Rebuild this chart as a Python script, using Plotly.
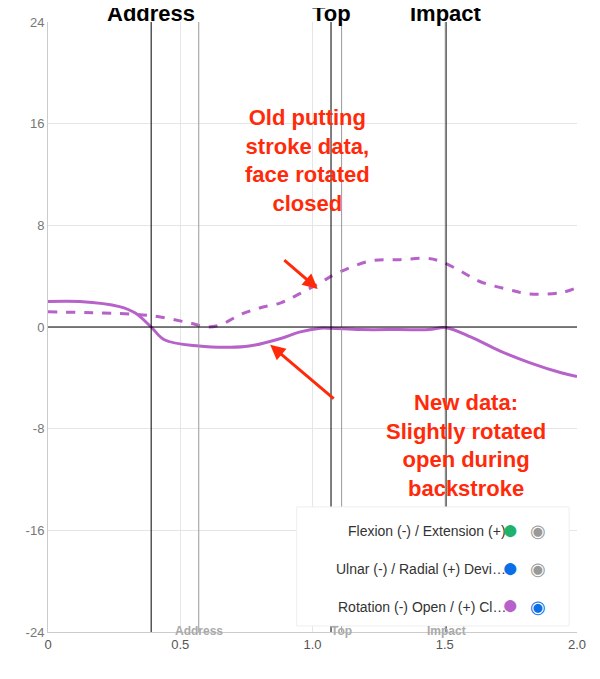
import plotly.graph_objects as go

# readings from the picture (x in seconds, rotation in degrees)
new_x = [0, 0.12, 0.27, 0.33, 0.39, 0.44, 0.57, 0.69, 0.76, 0.88, 0.95, 1.03, 1.07, 1.18, 1.33, 1.44, 1.505, 1.6, 1.71, 1.82, 1.94, 2.0]
new_y = [2.0, 2.0, 1.6, 1.1, 0.0, -1.0, -1.5, -1.6, -1.5, -0.9, -0.4, -0.1, -0.1, -0.2, -0.2, -0.2, -0.05, -0.8, -1.9, -2.8, -3.6, -3.9]
old_x = [0, 0.2, 0.33, 0.42, 0.54, 0.6, 0.65, 0.73, 0.8, 0.88, 0.95, 1.03, 1.1, 1.22, 1.33, 1.43, 1.48, 1.56, 1.63, 1.75, 1.82, 1.94, 2.0]
old_y = [1.2, 1.1, 1.0, 0.8, 0.3, 0.0, 0.15, 1.0, 1.5, 1.9, 2.6, 3.5, 4.3, 5.2, 5.3, 5.4, 5.2, 4.4, 3.6, 2.9, 2.6, 2.7, 3.1]

events = ["Address", "Top", "Impact"]
event_x = [0.39, 1.07, 1.505]
marker_x = [0.57, 1.11, 1.505]

x_ticks = [0, 0.5, 1.0, 1.5, 2.0]
x_labels = ["0", "0.5", "1.0", "1.5", "2.0"]
y_ticks = [-24, -16, -8, 0, 8, 16, 24]
y_labels = ["-24", "-16", "-8", "0", "8", "16", "24"]

purple = "#b762c9"
fig = go.Figure()
fig.add_trace(go.Scatter(x=new_x, y=new_y, mode="lines", line=dict(color=purple, width=3, shape="spline"), showlegend=False))
fig.add_trace(go.Scatter(x=old_x, y=old_y, mode="lines", line=dict(color=purple, width=3, dash="dash", shape="spline"), showlegend=False))

for name, ex in zip(events, event_x):
    fig.add_vline(x=ex, line=dict(color="black", width=1))
    fig.add_annotation(x=ex, y=1, yref="paper", text="<b>" + name + "</b>", showarrow=False,
                       yanchor="bottom", yshift=-6, font=dict(size=22, color="black"))
for name, mx in zip(events, marker_x):
    if mx != 1.505:
        fig.add_vline(x=mx, line=dict(color="#999", width=1))
    fig.add_annotation(x=mx, y=-24, text="<b>" + name + "</b>", showarrow=False, yanchor="bottom",
                       yshift=-8, font=dict(size=12, color="#aaa"))
fig.add_hline(y=0, line=dict(color="black", width=1))

red = "#ff2a0a"
fig.add_annotation(x=0.98, y=17.6, text="<b>Old putting<br>stroke data,<br>face rotated<br>closed</b>", showarrow=False,
                   yanchor="top", font=dict(size=22, color=red))
fig.add_annotation(x=1.02, y=3.0, ax=-35, ay=-30, text="", showarrow=True, arrowhead=2, arrowsize=1, arrowwidth=3, arrowcolor=red)
fig.add_annotation(x=1.58, y=-4.8, text="<b>New data:<br>Slightly rotated<br>open during<br>backstroke</b>", showarrow=False,
                   yanchor="top", font=dict(size=22, color=red))
fig.add_annotation(x=0.84, y=-1.4, ax=65, ay=55, text="", showarrow=True, arrowhead=2, arrowsize=1, arrowwidth=3, arrowcolor=red)

# legend box
fig.add_shape(type="rect", xref="paper", yref="paper", x0=0.47, x1=0.985, y0=0.01, y1=0.205,
              fillcolor="white", line=dict(color="#eee", width=1))
labels = ["Flexion (-) / Extension (+)", "Ulnar (-) / Radial (+) Devi…", "Rotation (-) Open / (+) Cl…"]
colors = ["#20b26b", "#0a6fe6", purple]
eyes = ["#999", "#999", "#0a6fe6"]
for i, (lab, c, e) in enumerate(zip(labels, colors, eyes)):
    yy = 0.165 - i * 0.062
    fig.add_annotation(xref="paper", yref="paper", x=0.87, y=yy, text=lab, showarrow=False, xanchor="right",
                       yanchor="middle", font=dict(size=14, color="#333"))
    fig.add_annotation(xref="paper", yref="paper", x=0.895, y=yy, text="●", showarrow=False,
                       yanchor="middle", yshift=2, font=dict(size=28, color=c))
    fig.add_annotation(xref="paper", yref="paper", x=0.945, y=yy, text="◉", showarrow=False,
                       yanchor="middle", font=dict(size=18, color=e))

fig.update_layout(
    width=600, height=679, margin=dict(l=40, r=31, t=14, b=55),
    plot_bgcolor="white", paper_bgcolor="white",
    font=dict(family="Helvetica, Arial, sans-serif"),
    xaxis=dict(range=[0, 2], tickvals=x_ticks, ticktext=x_labels, showgrid=True, gridcolor="#e5e5e5", zeroline=False,
               showline=True, linecolor="#ccc", tickfont=dict(size=13, color="#555"), ticks="", automargin=False),
    yaxis=dict(range=[-24, 24], tickvals=y_ticks, ticktext=y_labels, showgrid=True, gridcolor="#e5e5e5", zeroline=False,
               showline=True, linecolor="#ccc", tickfont=dict(size=13, color="#777"), ticks="", automargin=False),
)
fig.write_html("out.html")
